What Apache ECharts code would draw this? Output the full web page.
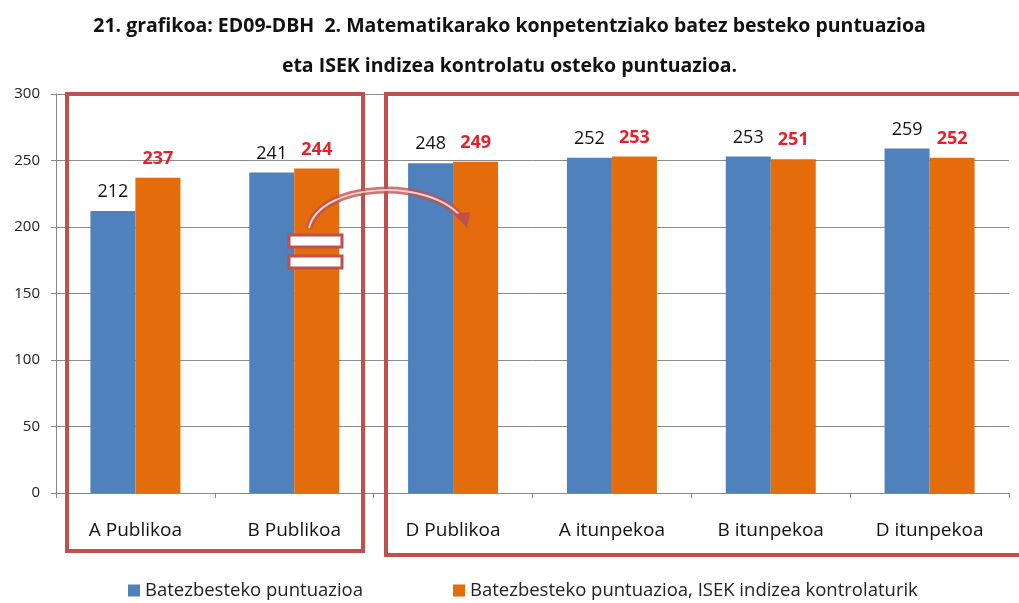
<!DOCTYPE html>
<html>
<head>
<meta charset="utf-8">
<script src="https://cdn.jsdelivr.net/npm/echarts@6/dist/echarts.min.js"></script>
<style>
  html, body { margin: 0; padding: 0; background: #fff; }
  #main { width: 1019px; height: 603px; }
</style>
</head>
<body>
<div id="main"></div>
<script>
  // datuak
  var categories = ['A Publikoa', 'B Publikoa', 'D Publikoa', 'A itunpekoa', 'B itunpekoa', 'D itunpekoa'];
  var seriesNames = ['Batezbesteko puntuazioa', 'Batezbesteko puntuazioa, ISEK indizea kontrolaturik'];
  var batezbestekoa = [212, 241, 248, 252, 253, 259];
  var isekKontrolatua = [237, 244, 249, 253, 251, 252];

  var fontFam = '"Open Sans", "Noto Sans", sans-serif';
  var boxColor = '#c0504d';

  var chart = echarts.init(document.getElementById('main'));

  var option = {
    animation: false,
    title: {
      text: '21. grafikoa: ED09-DBH  2. Matematikarako konpetentziako batez besteko puntuazioa\neta ISEK indizea kontrolatu osteko puntuazioa.',
      left: 'center',
      top: 1,
      textStyle: {
        fontFamily: fontFam,
        fontSize: 19.5,
        fontWeight: 'bold',
        color: '#111',
        lineHeight: 40
      }
    },
    color: ['#4f81bd', '#e46c0a'],
    legend: {
      data: seriesNames,
      top: 578,
      left: 123,
      padding: [3, 5],
      itemWidth: 12,
      itemHeight: 12,
      itemGap: 90,
      icon: 'rect',
      textStyle: { fontFamily: fontFam, fontSize: 18.5, color: '#222' }
    },
    grid: { left: 56, right: 10, top: 94, bottom: 110 },
    xAxis: {
      type: 'category',
      data: categories,
      axisLine: { lineStyle: { color: '#888' } },
      axisTick: { show: true, length: 5, lineStyle: { color: '#888' } },
      axisLabel: { fontFamily: fontFam, fontSize: 19, color: '#111', margin: 28 }
    },
    yAxis: {
      type: 'value',
      min: 0,
      max: 300,
      interval: 50,
      axisLine: { show: true, lineStyle: { color: '#888' } },
      axisTick: { show: true, length: 5, lineStyle: { color: '#888' } },
      axisLabel: { fontFamily: fontFam, fontSize: 15, color: '#222', margin: 16 },
      splitLine: { lineStyle: { color: '#8c8c8c' } }
    },
    series: [
      {
        name: seriesNames[0],
        type: 'bar',
        data: batezbestekoa,
        barWidth: 45,
        barGap: '0%',
        label: {
          show: true,
          position: 'top',
          distance: 10,
          fontFamily: fontFam,
          fontSize: 18,
          color: '#111'
        }
      },
      {
        name: seriesNames[1],
        type: 'bar',
        data: isekKontrolatua,
        barWidth: 45,
        label: {
          show: true,
          position: 'top',
          distance: 10,
          fontFamily: fontFam,
          fontSize: 18,
          fontWeight: 'bold',
          color: '#e8202a'
        }
      }
    ]
  };

  chart.setOption(option);

  // kutxak eta gezia (apaingarriak)
  var graphics = [
    {
      type: 'rect',
      shape: { x: 67, y: 94, width: 296, height: 457 },
      style: { fill: 'none', stroke: boxColor, lineWidth: 4 },
      z: 10
    },
    {
      type: 'rect',
      shape: { x: 386, y: 94, width: 640, height: 461 },
      style: { fill: 'none', stroke: boxColor, lineWidth: 4 },
      z: 10
    },
    {
      type: 'bezierCurve',
      shape: { x1: 309, y1: 228, cpx1: 320, cpy1: 182, cpx2: 430, cpy2: 177, x2: 462, y2: 218 },
      style: { fill: 'none', stroke: boxColor, lineWidth: 7, opacity: 0.8 },
      z: 11
    },
    {
      type: 'bezierCurve',
      shape: { x1: 309, y1: 228, cpx1: 320, cpy1: 182, cpx2: 430, cpy2: 177, x2: 462, y2: 218 },
      style: { fill: 'none', stroke: '#f4d0cf', lineWidth: 2 },
      z: 12
    },
    {
      type: 'polygon',
      shape: { points: [[454, 214], [470, 212], [467, 228]] },
      style: { fill: boxColor },
      z: 12
    },
    {
      type: 'rect',
      shape: { x: 289, y: 235, width: 53, height: 12 },
      style: { fill: '#fff', stroke: boxColor, lineWidth: 3 },
      z: 12
    },
    {
      type: 'rect',
      shape: { x: 289, y: 256, width: 53, height: 12 },
      style: { fill: '#fff', stroke: boxColor, lineWidth: 3 },
      z: 12
    }
  ];
  chart.setOption({ graphic: graphics });
</script>
</body>
</html>
